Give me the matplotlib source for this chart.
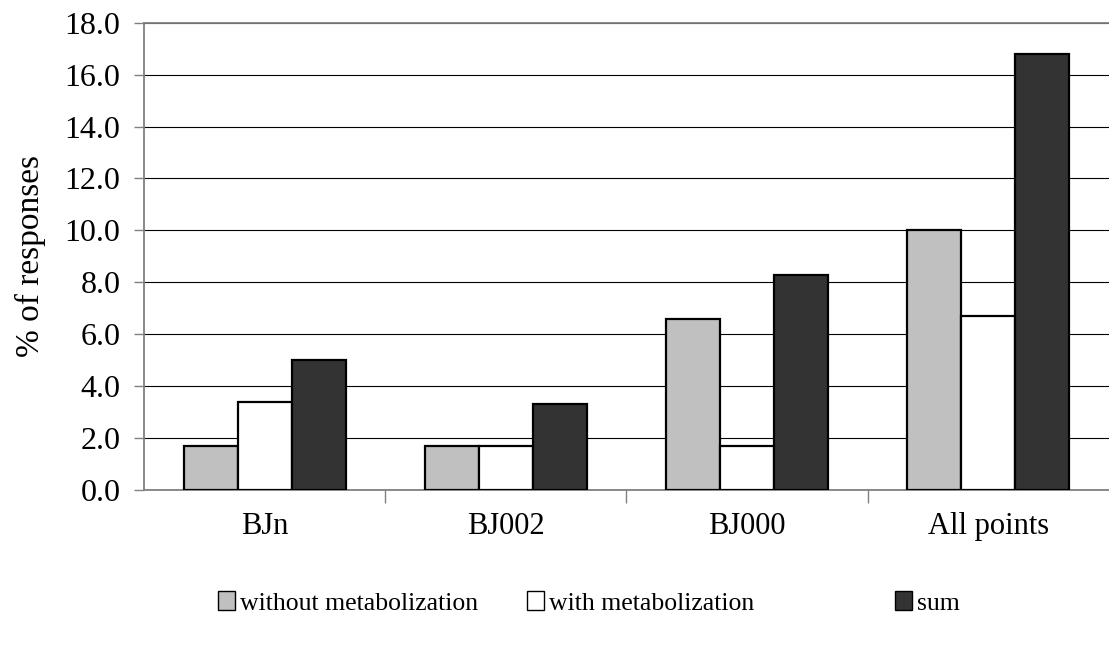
import matplotlib.pyplot as plt
import numpy as np
from matplotlib.patches import Patch
from matplotlib.ticker import FixedLocator

plt.rcParams['font.family'] = ['Liberation Serif', 'DejaVu Serif']

categories = ['BJn', 'BJ002', 'BJ000', 'All points']
without_met = [1.7, 1.7, 6.6, 10.0]
with_met = [3.4, 1.7, 1.7, 6.7]
total = [5.0, 3.3, 8.3, 16.8]

series = ['without metabolization', 'with metabolization', 'sum']
colors = ['#c0c0c0', '#ffffff', '#333333']

fig = plt.figure(figsize=(11.09, 6.51), dpi=100)
ax = fig.add_axes([0.1298, 0.2473, 0.8702, 0.7178])

x = np.arange(len(categories))
w = 0.224
for i, (vals, c) in enumerate(zip([without_met, with_met, total], colors)):
    ax.bar(x + (i - 1) * w, vals, w, color=c, edgecolor='black',
           linewidth=1.6, zorder=3)

ax.set_xlim(-0.5, 3.5)
ax.set_ylim(0, 18)
ax.set_yticks(np.arange(0, 18.1, 2))
ax.set_yticklabels(['%.1f' % v for v in np.arange(0, 18.1, 2)], fontsize=23)
ax.yaxis.grid(True, color='black', linewidth=0.8, zorder=0)

ax.set_xticks(x)
ax.set_xticklabels(categories, fontsize=22)
ax.xaxis.set_minor_locator(FixedLocator(np.arange(0.5, 3.5, 1)))
ax.tick_params(axis='x', which='major', length=0, pad=16)
ax.tick_params(axis='x', which='minor', length=9, color='#808080', width=1)
ax.tick_params(axis='y', length=7, color='#808080', width=1, pad=10)

ax.spines['right'].set_visible(False)
for s in ['left', 'bottom', 'top']:
    ax.spines[s].set_color('#808080')
    ax.spines[s].set_linewidth(1.3)

ax.set_ylabel('% of responses', fontsize=24, labelpad=13)

# legend entries spread out along the bottom
legend_x = [0.1966, 0.4752, 0.807]
for name, c, lx in zip(series, colors, legend_x):
    fig.legend([Patch(facecolor=c, edgecolor='black', linewidth=1.0)], [name],
               loc='center left', bbox_to_anchor=(lx, 0.0737), frameon=False,
               fontsize=18.5, handlelength=0.65, handleheight=0.75,
               handletextpad=0.2, borderpad=0, borderaxespad=0)

fig.savefig('out.png', dpi=100)
